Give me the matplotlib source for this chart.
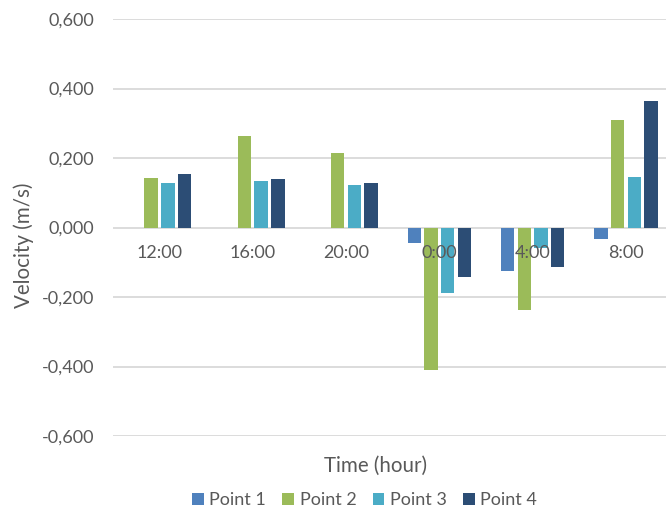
import matplotlib
matplotlib.use("Agg")
import matplotlib.pyplot as plt
from matplotlib.patches import Patch
import numpy as np

plt.rcParams['font.family'] = ['Lato', 'DejaVu Sans']

# Measured velocities per time of day
times = ["12:00", "16:00", "20:00", "0:00", "4:00", "8:00"]
series_names = ["Point 1", "Point 2", "Point 3", "Point 4"]
point1 = [0.0, 0.0, 0.0, -0.045, -0.126, -0.032]
point2 = [0.142, 0.263, 0.214, -0.410, -0.238, 0.310]
point3 = [0.128, 0.134, 0.123, -0.189, -0.060, 0.144]
point4 = [0.155, 0.141, 0.127, -0.143, -0.114, 0.363]
y_ticks = [-0.6, -0.4, -0.2, 0.0, 0.2, 0.4, 0.6]

colors = ["#4F81BD", "#9BBB59", "#4BACC6", "#2C4D75"]
text_color = "#595959"
grid_color = "#D9D9D9"

W, H = 666, 511
fig = plt.figure(figsize=(W / 100, H / 100), dpi=100)
ax = fig.add_axes([112.85 / W, 1 - 436 / H, (672.6 - 112.85) / W, (436 - 19) / H])

x = np.arange(len(times))
pitch = 0.179
bar_w = 0.143
series = [point1, point2, point3, point4]
for k, (vals, col) in enumerate(zip(series, colors)):
    ax.bar(x + (k - 1.5) * pitch, vals, width=bar_w, color=col, zorder=3,
           linewidth=0)

ax.set_xlim(-0.5, len(times) - 0.5)
ax.set_ylim(-0.6, 0.6)
ax.set_yticks(y_ticks)
ax.set_yticklabels([f"{v:.3f}".replace(".", ",") for v in y_ticks])
ax.yaxis.grid(True, color=grid_color, linewidth=1.3, zorder=0)
ax.set_axisbelow(True)
ax.set_xticks([])
for s in ax.spines.values():
    s.set_visible(False)
ax.tick_params(axis='y', length=0, pad=13.5, labelsize=13, labelcolor=text_color)

# Category labels sit just under the zero line, drawn over the bars
for xi, lbl in zip(x, times):
    ax.annotate(lbl, xy=(xi, 0), xytext=(0, -25), textcoords='offset pixels',
                ha='center', va='center', fontsize=13, color=text_color,
                zorder=5, annotation_clip=False)

fig.text(24 / W, 1 - 245 / H, "Velocity (m/s)", rotation=90, ha='center',
         va='center', fontsize=14.8, color=text_color)
fig.text(375 / W, 1 - 466 / H, "Time (hour)", ha='center', va='center',
         fontsize=14.8, color=text_color)

handles = [Patch(facecolor=c, edgecolor='none') for c in colors]
leg = fig.legend(handles, series_names, loc='center', ncol=4,
                 bbox_to_anchor=(364.5 / W, 1 - 500 / H), frameon=False,
                 fontsize=13, handlelength=0.65, handleheight=0.65,
                 handletextpad=0.3, columnspacing=0.9, borderaxespad=0)
for t in leg.get_texts():
    t.set_color(text_color)

fig.savefig("out.png", dpi=100)
